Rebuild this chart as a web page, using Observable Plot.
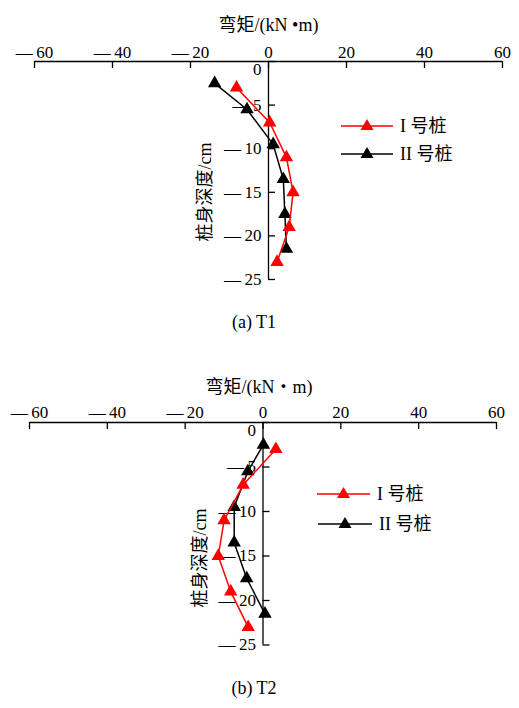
<!DOCTYPE html>
<html><head><meta charset="utf-8">
<script src="https://cdn.jsdelivr.net/npm/d3@7"></script>
<script src="https://cdn.jsdelivr.net/npm/@observablehq/plot@0.6"></script>
<style>
body{margin:0;background:#fff;}
#wrap{position:relative;width:519px;height:708px;overflow:hidden;font-family:"Liberation Serif","Noto Sans CJK SC",serif;color:#000;}
.abs{position:absolute;}
.cap{font-size:18px;white-space:nowrap;transform:translate(-50%,-50%);}
.ylab{font-size:18px;white-space:nowrap;transform:translate(-50%,-50%) rotate(-90deg);}
.leg{font-size:18px;white-space:nowrap;display:flex;align-items:center;transform:translateY(-50%);}
.leg span{margin-left:7px;}
</style></head>
<body><div id="wrap"></div>
<script>
const xTicks = [-60, -40, -20, 0, 20, 40, 60];
const yTicks = [0, -5, -10, -15, -20, -25];
const depthI = [-3, -7, -11, -15, -19, -23];
const depthII = [-2.5, -5.5, -9.5, -13.5, -17.5, -21.5];
const t1I = [-8.2, 0.3, 4.6, 6.3, 5.3, 2.2];
const t1II = [-13.8, -5.5, 1.2, 3.8, 4.2, 4.6];
const t2I = [3.3, -5.1, -10.0, -11.5, -8.3, -3.8];
const t2II = [0.1, -3.9, -7.4, -7.4, -4.2, 0.5];
const seriesNames = ["I 号桩", "II 号桩"];
const seriesColors = ["#ff0000", "#000000"];
const xTitles = ["弯矩/(kN •m)", "弯矩/(kN・m)"];
const yTitle = "桩身深度/cm";
const captions = ["(a) T1", "(b) T2"];

const fmt = d => d < 0 ? "—\u2009" + Math.abs(d) : String(d);
const rows = (m, d) => m.map((v, i) => ({m: v, d: d[i]}));

function panel(o) {
  const I = rows(o.I, depthI), II = rows(o.II, depthII);
  return Plot.plot({
    width: 519, height: o.h,
    marginLeft: o.ml, marginRight: o.mr, marginTop: o.mt, marginBottom: o.mb,
    x: {domain: [-60, 60], axis: null},
    y: {domain: [-25, 0], axis: null},
    style: {fontFamily: '"Liberation Serif","Noto Sans CJK SC",serif', fontSize: "17px", background: "transparent", overflow: "visible", color: "#000"},
    marks: [
      Plot.ruleY([0], {stroke: "#000", strokeWidth: 1.3}),
      Plot.ruleX([0], {stroke: "#000", strokeWidth: 1.3}),
      Plot.ruleX(xTicks, {x: d => d, y1: 0, y2: -0.8, stroke: "#000", strokeWidth: 1.3}),
      Plot.ruleY(yTicks, {y: d => d, x1: 0, x2: 1.8, stroke: "#000", strokeWidth: 1.3}),
      Plot.text(xTicks, {x: d => d, frameAnchor: "top", dy: o.tickDy, text: fmt, fill: "#000"}),
      Plot.text(yTicks.filter(d => d !== 0), {x: 0, y: d => d, dx: -7, textAnchor: "end", text: fmt, fill: "#000"}),
      Plot.text([0], {x: 0, y: d => d, dx: -7, dy: 8, textAnchor: "end", text: fmt, fill: "#000"}),
      Plot.text([o.title], {frameAnchor: "top", dy: o.titleDy, dx: o.titleDx, fontSize: 18, fill: "#000"}),
      Plot.line(II, {x: "m", y: "d", stroke: seriesColors[1], strokeWidth: 1.5}),
      Plot.dot(II, {x: "m", y: "d", symbol: "triangle", r: 5, fill: seriesColors[1], stroke: "none"}),
      Plot.line(I, {x: "m", y: "d", stroke: seriesColors[0], strokeWidth: 1.5}),
      Plot.dot(I, {x: "m", y: "d", symbol: "triangle", r: 5, fill: seriesColors[0], stroke: "none"})
    ]
  });
}

const wrap = document.getElementById("wrap");
function place(el, top, left) {
  el.classList.add("abs");
  el.style.top = top + "px"; el.style.left = left + "px";
  wrap.appendChild(el);
  return el;
}
function div(cls, txt) { const e = document.createElement("div"); e.className = cls; e.textContent = txt; return e; }
function legendRow(color, name, width) {
  const e = document.createElement("div"); e.className = "leg";
  e.innerHTML = `<svg width="${width}" height="14"><line x1="0" x2="${width}" y1="9" y2="9" stroke="${color}" stroke-width="1.5"/><path d="M${width/2-6.5},13L${width/2+6.5},13L${width/2},2Z" fill="${color}"/></svg><span>${name}</span>`;
  return e;
}

const p1 = panel({I: t1I, II: t1II, h: 295, ml: 34, mr: 17, mt: 61, mb: 16, tickDy: -16, titleDy: -43, titleDx: 0, title: xTitles[0]});
place(p1, 0, 0);
const p2 = panel({I: t2I, II: t2II, h: 300, ml: 29, mr: 23, mt: 62, mb: 15.5, tickDy: -17, titleDy: -42, titleDx: -4, title: xTitles[1]});
place(p2, 360, 0);

place(div("ylab", yTitle), 192, 203);
place(div("ylab", yTitle), 558, 198);
place(div("cap", captions[0]), 322, 254);
place(div("cap", captions[1]), 688, 254);

place(legendRow(seriesColors[0], seriesNames[0], 52), 124, 341);
place(legendRow(seriesColors[1], seriesNames[1], 52), 152, 341);
place(legendRow(seriesColors[0], seriesNames[0], 53), 492, 317);
place(legendRow(seriesColors[1], seriesNames[1], 54), 522, 318);
</script></body></html>
